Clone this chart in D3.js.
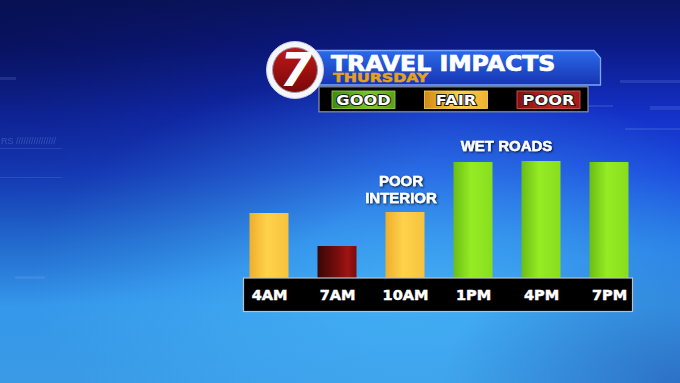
<!DOCTYPE html>
<html><head><meta charset="utf-8">
<script src="https://cdn.jsdelivr.net/npm/d3@7"></script>
<style>html,body{margin:0;padding:0;background:#1530c0;overflow:hidden}svg{display:block}</style>
</head><body>
<svg id="c" width="680" height="383"></svg>
<script>
// ---- data ----
const times = ["4AM", "7AM", "10AM", "1PM", "4PM", "7PM"];
const impact = [65, 32, 66, 116, 117, 116];
const condition = ["FAIR", "POOR", "FAIR", "GOOD", "GOOD", "GOOD"];
const legendLabels = ["GOOD", "FAIR", "POOR"];
const titleText = "TRAVEL IMPACTS";
const subtitleText = "THURSDAY";
const noteInterior = ["POOR", "INTERIOR"];
const noteWet = ["WET ROADS"];

const W = 680, H = 383;
const svg = d3.select("#c");
const defs = svg.append("defs");

function lin(id, stops, horiz) {
  const g = defs.append("linearGradient").attr("id", id)
    .attr("x1", 0).attr("y1", 0).attr("x2", horiz ? 1 : 0).attr("y2", horiz ? 0 : 1);
  stops.forEach(s => g.append("stop").attr("offset", s[0]).attr("stop-color", s[1]));
}
lin("bg", [[0, "#0a1563"], [0.12, "#0c1a86"], [0.3, "#1431c8"], [0.45, "#1a48dc"], [0.62, "#2575e2"], [0.8, "#3598ea"], [1, "#3a9ae6"]]);
function radial(id, cx, cy, r, color, op) {
  const g = defs.append("radialGradient").attr("id", id).attr("cx", cx).attr("cy", cy).attr("r", r);
  g.append("stop").attr("offset", 0).attr("stop-color", color).attr("stop-opacity", op);
  g.append("stop").attr("offset", 1).attr("stop-color", color).attr("stop-opacity", 0);
}
radial("glow", 0.6, 0.74, 0.55, "#48b8f8", 0.7);
radial("dark", 0, 0.1, 0.7, "#050c40", 0.55);
radial("dark2", 1, 1, 0.35, "#1a3c9c", 0.45);

lin("gFAIR", [[0, "#eeae2c"], [0.45, "#ffd24c"], [1, "#f6c23e"]], true);
lin("gGOOD", [[0, "#6abd14"], [0.45, "#95ec24"], [1, "#88de1e"]], true);
lin("gPOOR", [[0, "#380606"], [0.55, "#7e0e0e"], [0.78, "#a01414"], [1, "#7a0c0c"]], true);
lin("lGOOD", [[0, "#3f8a12"], [0.6, "#7cc82a"], [1, "#5aa01a"]], true);
lin("lFAIR", [[0, "#d08a14"], [0.55, "#ffd048"], [1, "#f0b030"]], true);
lin("lPOOR", [[0, "#8a0e0e"], [0.6, "#c42a2a"], [1, "#a01818"]], true);
lin("banner", [[0, "#2b6ae8"], [1, "#1634b4"]]);
lin("logoRed", [[0, "#c01818"], [1, "#7a0808"]]);

const f = defs.append("filter").attr("id", "shadow").attr("x", -0.2).attr("y", -0.3).attr("width", 1.4).attr("height", 1.6);
f.append("feDropShadow").attr("dx", 1).attr("dy", 1).attr("stdDeviation", 1.2).attr("flood-color", "#000").attr("flood-opacity", 0.8);

// ---- background ----
svg.append("rect").attr("width", W).attr("height", H).attr("fill", "url(#bg)");
svg.append("rect").attr("width", W).attr("height", H).attr("fill", "url(#glow)");
svg.append("rect").attr("width", W).attr("height", H).attr("fill", "url(#dark)");
svg.append("rect").attr("width", W).attr("height", H).attr("fill", "url(#dark2)");
// faint decorative streaks
const deco = svg.append("g").attr("fill", "#9fc0ff").attr("opacity", 0.14);
[[0, 77, 16, 3], [620, 80, 60, 3], [650, 106, 30, 4], [625, 128, 55, 2], [583, 105, 30, 2], [0, 148, 62, 1], [0, 177, 62, 1], [15, 276, 30, 3]]
  .forEach(r => deco.append("rect").attr("x", r[0]).attr("y", r[1]).attr("width", r[2]).attr("height", r[3]));
svg.append("text").attr("x", 1).attr("y", 144).attr("fill", "#9fc0ff").attr("opacity", 0.25)
  .attr("font-family", "Liberation Sans").attr("font-size", 9).text("RS   ////////////////");

// ---- chart ----
const x = d3.scalePoint().domain(times).range([269, 609]);
const y = d3.scaleLinear().domain([0, 120]).range([278, 158]);
const barW = 39;

svg.append("g").selectAll("rect").data(times).join("rect")
  .attr("x", d => x(d) - barW / 2)
  .attr("y", (d, i) => y(impact[i]))
  .attr("width", barW)
  .attr("height", (d, i) => y(0) - y(impact[i]))
  .attr("fill", (d, i) => "url(#g" + condition[i] + ")");

// axis strip
svg.append("rect").attr("x", 243.5).attr("y", y(0)).attr("width", 389).attr("height", 33.5)
  .attr("fill", "#000").attr("stroke", "#b8c0cc").attr("stroke-width", 1.2);
const axis = d3.axisBottom(x).tickSize(0).tickPadding(0);
const ax = svg.append("g").attr("transform", `translate(0,${y(0)})`).call(axis);
ax.select(".domain").remove();
ax.selectAll("text").attr("y", 22).attr("dy", null)
  .attr("fill", "#fff").attr("stroke", "#fff").attr("stroke-width", 0.5)
  .attr("font-family", "DejaVu Sans").attr("font-weight", "bold")
  .attr("font-size", 14.5);

// annotations
function note(lines, cx, baseY, lh) {
  const t = svg.append("text").attr("text-anchor", "middle").attr("fill", "#fff")
    .attr("stroke", "#fff").attr("stroke-width", 0.4)
    .attr("font-family", "Liberation Sans").attr("font-weight", "bold").attr("font-size", 15)
    .attr("filter", "url(#shadow)");
  lines.forEach((l, i) => t.append("tspan").attr("x", cx).attr("y", baseY + i * lh).text(l));
}
note(noteInterior, x("10AM") - 4, 186, 16.8);
note(noteWet, (x("1PM") + x("4PM")) / 2 - 0.5, 150.8, 16);

// ---- header ----
svg.append("path").attr("d", "M316,50.5 L594,50.5 L600.5,58 L600.5,85 L316,85 Z")
  .attr("fill", "url(#banner)").attr("stroke", "#7aa6ff").attr("stroke-width", 1.3);
svg.append("text").attr("transform", "translate(331,70.5) scale(1.15,1)").attr("fill", "#fff")
  .attr("stroke", "#fff").attr("stroke-width", 0.7)
  .attr("font-family", "DejaVu Sans").attr("font-weight", "bold").attr("font-size", 20.5)
  .text(titleText);
svg.append("text").attr("transform", "translate(333,82) scale(1.25,1)").attr("fill", "#e6a21a")
  .attr("stroke", "#e6a21a").attr("stroke-width", 0.5)
  .attr("font-family", "DejaVu Sans").attr("font-weight", "bold").attr("font-size", 12.6)
  .text(subtitleText);

// legend bar
svg.append("rect").attr("x", 319).attr("y", 86.8).attr("width", 269).attr("height", 25)
  .attr("fill", "#000").attr("stroke", "#8a92a4").attr("stroke-width", 1.2);
const lx = d3.scalePoint().domain(legendLabels).range([363.5, 548.5]);
const lg = svg.append("g").selectAll("g").data(legendLabels).join("g");
lg.append("rect").attr("x", d => lx(d) - 31.5).attr("y", 91).attr("width", 63).attr("height", 17.5)
  .attr("fill", d => "url(#l" + d + ")")
  .attr("stroke", d => d === "POOR" ? "#d86060" : d === "GOOD" ? "#9ad840" : "#ffd860").attr("stroke-width", 0.8);
lg.append("text").attr("transform", d => `translate(${lx(d)},105.3) scale(1.12,1)`).attr("text-anchor", "middle")
  .attr("fill", "#fff").attr("stroke", "#1a1a1a").attr("stroke-width", 2).attr("paint-order", "stroke")
  .attr("font-family", "DejaVu Sans").attr("font-weight", "bold").attr("font-size", 14.5)
  .text(d => d);

// logo
const logo = svg.append("g").attr("transform", "translate(295,70)");
logo.append("circle").attr("r", 28.5).attr("fill", "#f4f6fa").attr("stroke", "#c8d0e0").attr("stroke-width", 1);
logo.append("circle").attr("r", 22.5).attr("fill", "url(#logoRed)").attr("stroke", "#9aa0b0").attr("stroke-width", 1);
logo.append("text").attr("x", 1).attr("y", 16).attr("text-anchor", "middle").attr("fill", "#fff")
  .attr("font-family", "DejaVu Sans").attr("font-weight", "bold").attr("font-style", "italic")
  .attr("font-size", 46).text("7");
</script>
</body></html>
